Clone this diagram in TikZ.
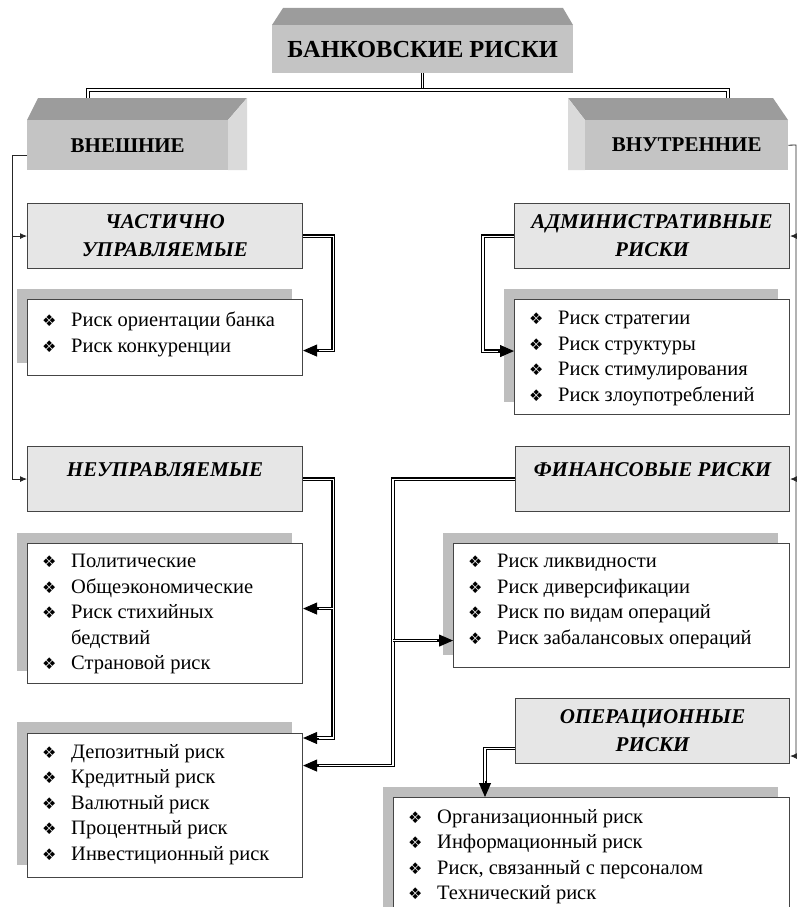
\documentclass[tikz,border=0pt]{standalone}
\usepackage{fontspec}
\setmainfont{Liberation Serif}
\newfontfamily\symfont{DejaVu Sans}
\usetikzlibrary{arrows.meta,positioning,calc}

\definecolor{faceC}{HTML}{C4C4C4}
\definecolor{topC}{HTML}{9C9C9C}
\definecolor{sideC}{HTML}{DADADA}
\definecolor{headC}{HTML}{E6E6E6}
\definecolor{shadeC}{HTML}{BEBEBE}
\definecolor{edgeC}{HTML}{454545}

\newcommand{\bul}{\makebox[29pt][l]{\symfont\fontsize{16}{16}\selectfont ❖}}
\newcommand{\cont}{\hspace*{29pt}}

\begin{document}
\begin{tikzpicture}[x=1pt, y=-1pt,
    face/.style={rectangle, fill=faceC, inner sep=0pt, anchor=north west, font=\fontsize{21}{24}\selectfont\bfseries},
    group/.style={rectangle, draw=edgeC, line width=1.1pt, fill=headC, anchor=north west, minimum width=275pt, minimum height=65pt, inner sep=0pt, align=center, font=\fontsize{21}{28}\selectfont\bfseries\itshape},
    listbox/.style={rectangle, draw=edgeC, line width=1.1pt, fill=white, anchor=north west, inner sep=0pt},
    listtext/.style={anchor=north west, inner sep=0pt, align=left, font=\fontsize{20.5}{25.5}\selectfont},
    shade/.style={fill=shadeC},
    dbl/.style={draw=black, double=white, line width=1.2pt, double distance=1.1pt},
    tip/.style={-{Triangle[length=14pt,width=12pt]}, line width=1pt},
    thinarrow/.style={draw=black!85, line width=0.8pt, -{Latex[length=7pt,width=6pt]}}
]
    \useasboundingbox (0,0) rectangle (797,907);
    \clip (0,0) rectangle (797,907);

    % объёмные блоки
    \fill[topC] (272,25) -- (283,8) -- (563,8) -- (573,25) -- cycle;
    \node[face, minimum width=301pt, minimum height=48pt, font=\fontsize{24.5}{28}\selectfont\bfseries] (bank) at (272,25) {БАНКОВСКИЕ РИСКИ};

    \fill[topC] (27,120) -- (38,98) -- (247,98) -- (228,120) -- cycle;
    \fill[sideC] (228,120) -- (247,98) -- (247,170) -- (228,170) -- cycle;
    \node[face, minimum width=201pt, minimum height=50pt] (ext) at (27,120) {ВНЕШНИЕ};

    \fill[topC] (568,98) -- (773,98) -- (788,120) -- (585,120) -- cycle;
    \fill[sideC] (568,98) -- (585,120) -- (585,170) -- (568,170) -- cycle;
    \node[face, minimum width=203pt, minimum height=50pt] (int) at (585,120) {ВНУТРЕННИЕ};

    % группы рисков
    \node[group] (part) at (27,203) {ЧАСТИЧНО\\УПРАВЛЯЕМЫЕ};
    \node[group, text depth=19pt] (unc) at (27,446) {НЕУПРАВЛЯЕМЫЕ};
    \node[group] (adm) at (514,203) {АДМИНИСТРАТИВНЫЕ\\РИСКИ};
    \node[group, minimum width=274pt, text depth=19pt] (fin) at (515,446) {ФИНАНСОВЫЕ РИСКИ};
    \node[group, minimum width=274pt] (ops) at (515,698) {ОПЕРАЦИОННЫЕ\\РИСКИ};

    % тени списков
    \fill[shade] (17,289) rectangle (292,363);
    \fill[shade] (17,533) rectangle (292,671);
    \fill[shade] (17,722) rectangle (292,865);
    \fill[shade] (504,289) rectangle (778,402);
    \fill[shade] (443,533) rectangle (778,655);
    \fill[shade] (383,787) rectangle (778,907);

    % списки
    \node[listbox, minimum width=275pt, minimum height=76pt] (lstA) at (27,299) {};
    \node[listtext] (txtA) at ([xshift=15pt,yshift=-13pt]lstA.north west)
        {\bul Риск ориентации банка\\ \bul Риск конкуренции};

    \node[listbox, minimum width=275pt, minimum height=140pt] (lstB) at (27,543) {};
    \node[listtext] (txtB) at ([xshift=15pt,yshift=-11pt]lstB.north west)
        {\bul Политические\\ \bul Общеэкономические\\ \bul Риск стихийных\\ \cont бедствий\\ \bul Страновой риск};

    \node[listbox, minimum width=275pt, minimum height=144pt] (lstC) at (27,733) {};
    \node[listtext] (txtC) at ([xshift=15pt,yshift=-11pt]lstC.north west)
        {\bul Депозитный риск\\ \bul Кредитный риск\\ \bul Валютный риск\\ \bul Процентный риск\\ \bul Инвестиционный риск};

    \node[listbox, minimum width=275pt, minimum height=115pt] (lstD) at (514,299) {};
    \node[listtext] (txtD) at ([xshift=15pt,yshift=-12pt]lstD.north west)
        {\bul Риск стратегии\\ \bul Риск структуры\\ \bul Риск стимулирования\\ \bul Риск злоупотреблений};

    \node[listbox, minimum width=336pt, minimum height=124pt] (lstE) at (453,543) {};
    \node[listtext] (txtE) at ([xshift=15pt,yshift=-11pt]lstE.north west)
        {\bul Риск ликвидности\\ \bul Риск диверсификации\\ \bul Риск по видам операций\\ \bul Риск забалансовых операций};

    \node[listbox, minimum width=396pt, minimum height=130pt] (lstF) at (393,797) {};
    \node[listtext] (txtF) at ([xshift=15pt,yshift=-12pt]lstF.north west)
        {\bul Организационный риск\\ \bul Информационный риск\\ \bul Риск, связанный с персоналом\\ \bul Технический риск};

    % связи верхнего уровня
    \coordinate (jt) at (423,90);
    \coordinate (extTop) at (88,98);
    \coordinate (intTop) at (728,98);
    \draw[dbl] (bank.south) -- (bank.south |- jt);
    \draw[dbl] (extTop) -- (extTop |- jt) -- (intTop |- jt) -- (intTop);

    % тонкие линии
    \coordinate (lbus) at (12,155);
    \draw[thinarrow] (ext.south west |- lbus) -- (lbus) |- (unc.west);
    \draw[thinarrow] (lbus |- part.west) -- (part.west);
    \coordinate (rbus) at (796,145);
    \draw[thinarrow] (int.east) -- (rbus) |- ([yshift=-25pt]ops.east);
    \draw[thinarrow] (rbus |- adm.east) -- (adm.east);
    \draw[thinarrow] (rbus |- fin.east) -- (fin.east);

    % двойные стрелки к спискам
    \coordinate (pbus) at ([xshift=30pt]part.east);
    \coordinate (inA) at ([yshift=-13pt]lstA.east);
    \draw[dbl, shorten >=10pt] (part.east) -- (pbus) |- (inA);
    \draw[tip] ([xshift=16pt]inA) -- (inA);

    \coordinate (ubus) at ([xshift=30pt]unc.east);
    \coordinate (inB) at ([yshift=5pt]lstB.east);
    \coordinate (inC1) at ([yshift=-5pt]lstC.north east);
    \draw[dbl, shorten >=10pt] (unc.east) -- (ubus) |- (inC1);
    \draw[dbl, shorten >=10pt] (ubus |- inB) -- (inB);
    \draw[tip] ([xshift=16pt]inB) -- (inB);
    \draw[tip] ([xshift=16pt]inC1) -- (inC1);

    \coordinate (abus) at ([xshift=-31pt]adm.west);
    \coordinate (inD) at ([yshift=6pt]lstD.west);
    \draw[dbl, shorten >=10pt] (adm.west) -- (abus) |- (inD);
    \draw[tip] ([xshift=-16pt]inD) -- (inD);

    \coordinate (fbus) at ([xshift=-122pt]fin.west);
    \coordinate (inE) at ([yshift=-35pt]lstE.west);
    \coordinate (inC2) at ([yshift=40pt]lstC.east);
    \draw[dbl, shorten >=10pt] (fin.west) -- (fbus) |- (inC2);
    \draw[dbl, shorten >=10pt] (fbus |- inE) -- (inE);
    \draw[tip] ([xshift=16pt]inC2) -- (inC2);
    \draw[tip] ([xshift=-16pt]inE) -- (inE);

    \coordinate (opsOut) at ([yshift=-17.5pt]ops.west);
    \coordinate (obus) at ([xshift=-30pt]opsOut);
    \coordinate (inF) at (obus |- lstF.north);
    \draw[dbl, shorten >=10pt] (opsOut) -- (obus) -- (inF);
    \draw[tip] ([yshift=16pt]inF) -- (inF);
\end{tikzpicture}
\end{document}
